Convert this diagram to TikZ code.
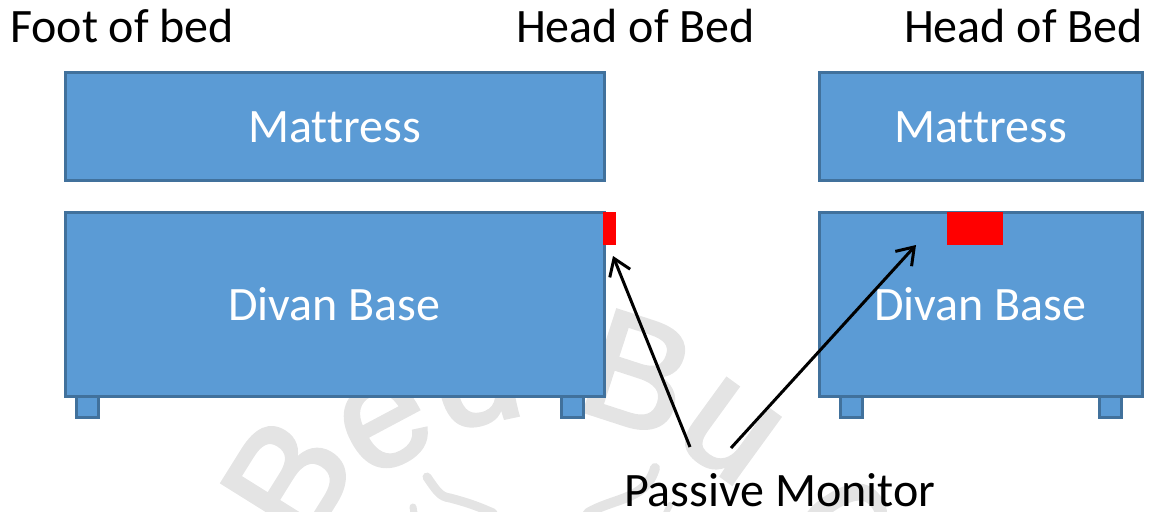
\documentclass[tikz,border=0pt]{standalone}
\usepackage{fontspec}
\setmainfont[RawFeature=-liga]{Carlito}
\newfontfamily\wmfont[RawFeature={embolden=2.2}]{Liberation Sans}
\definecolor{boxfill}{HTML}{5B9BD5}
\definecolor{boxline}{HTML}{41719C}
\definecolor{wmgray}{HTML}{E4E4E4}
\usetikzlibrary{arrows.meta}
\tikzset{
  bedbox/.style={draw=boxline,fill=boxfill,line width=3pt,inner sep=0pt,outer sep=0pt,text=white,font=\fontsize{48}{48}\selectfont,anchor=north west,text height=32pt,text depth=0pt},
  foot/.style={draw=boxline,fill=boxfill,line width=3pt,inner sep=0pt,outer sep=0pt,anchor=north west,minimum width=22pt,minimum height=21pt},
  sensor/.style={fill=red,inner sep=0pt,outer sep=0pt,anchor=north west,minimum height=33pt},
  caption/.style={font=\fontsize{48}{48}\selectfont,inner sep=0pt,outer sep=0pt,anchor=base west},
  wm/.style={text=wmgray,font=\wmfont\fontsize{155}{155}\selectfont,inner sep=0pt},
  bugleg/.style={draw=wmgray,line cap=round,line join=round},
  pointer/.style={draw=black,line width=3pt,-{Straight Barb[length=16pt,width=22pt,line width=3pt]}}
}
\begin{document}
\begin{tikzpicture}[x=1pt,y=-1pt]
\useasboundingbox (0,0) rectangle (1153,511);
\clip (0,0) rectangle (1153,511);
% watermark
\node[wm,rotate=58] (w1) at (288,478) {B};
\node[wm,rotate=28] (w2) at (385,424) {e};
\node[wm,rotate=12] (w3) at (474,368) {d};
\node[wm,rotate=-18] (w4) at (638,373) {B};
\node[wm,rotate=-36] (w5) at (729,432) {u};
\node[wm,rotate=-58] (w6) at (835,535) {g};
\draw[bugleg,line width=9pt] (427,477) .. controls (436,490) and (440,497) .. (450,498) .. controls (465,502) and (475,505) .. (493,513);
\draw[bugleg,line width=7pt] (413,507) -- (414,513);
\draw[bugleg,line width=10pt] (655,468) .. controls (650,485) and (640,492) .. (625,498) .. controls (612,503) and (600,506) .. (588,513);
\draw[bugleg,line width=6pt] (670,505) -- (666,513);
% left bed
\node[foot] (lf1) at (76,396) {};
\node[foot] (lf2) at (561,396) {};
\node[bedbox,minimum width=539pt,minimum height=108pt] (lm) at (65,72) {Mattress};
\node[bedbox,minimum width=539pt,minimum height=184pt] (lb) at (65,212) {Divan Base};
\node[sensor,minimum width=13pt] (ls) at (603,212) {};
% right bed
\node[foot] (rf1) at (840,396) {};
\node[foot] (rf2) at (1099,396) {};
\node[bedbox,minimum width=323pt,minimum height=108pt] (rm) at (819,72) {Mattress};
\node[bedbox,minimum width=323pt,minimum height=184pt] (rb) at (819,212) {Divan Base};
\node[sensor,minimum width=56pt] (rs) at (947,212) {};
% captions
\node[caption] (c1) at (10,43) {Foot of bed};
\node[caption] (c2) at (516,43) {Head of Bed};
\node[caption] (c3) at (904,43) {Head of Bed};
\node[caption] (pm) at (624,506) {Passive Monitor};
% pointers
\coordinate (a1s) at (690,447);
\coordinate (a1e) at (613,256);
\coordinate (a2s) at (731,448);
\coordinate (a2e) at (916,245);
\draw[pointer] (a1s) -- (a1e);
\draw[pointer] (a2s) -- (a2e);
\end{tikzpicture}
\end{document}
